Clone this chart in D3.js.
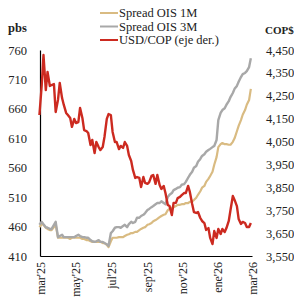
<!DOCTYPE html>
<html>
<head>
<meta charset="utf-8">
<script src="https://cdn.jsdelivr.net/npm/d3@7"></script>
<style>
  body { margin: 0; background: #fff; }
  text { font-family: "Liberation Serif", "DejaVu Serif", serif; fill: #222; }
</style>
</head>
<body>
<div id="chart"></div>
<script>
// observations, two per week, from end of feb 2025 to end of feb 2026
var start = new Date(2025, 1, 28);

var ois1m = [459, 464, 463, 458, 456, 454, 454, 459, 463, 441, 441, 441, 441, 441, 441, 439, 441, 441, 441, 441,
  441, 439, 439, 437, 437, 435, 434, 434, 434, 434, 434, 432, 432, 429, 425, 435, 441, 441, 441, 442,
  442, 442, 444, 446, 447, 449, 449, 451, 451, 454, 456, 458, 459, 463, 464, 466, 469, 471, 473, 476,
  478, 480, 481, 488, 490, 492, 493, 495, 497, 497, 498, 498, 500, 500, 502, 503, 505, 509, 514, 520,
  526, 529, 536, 541, 546, 553, 565, 578, 595, 600, 602, 600, 600, 599, 599, 604, 610, 622, 631, 641,
  650, 658, 667, 675, 694];

var ois3m = [463, 468, 464, 459, 458, 456, 456, 463, 468, 442, 444, 446, 442, 442, 442, 442, 442, 442, 444, 446,
  444, 442, 442, 441, 441, 437, 435, 434, 435, 437, 434, 434, 432, 430, 427, 449, 452, 458, 459, 459,
  458, 461, 463, 459, 464, 468, 466, 468, 475, 475, 478, 480, 483, 488, 490, 493, 495, 498, 500, 500,
  503, 500, 498, 510, 514, 517, 522, 524, 526, 527, 531, 532, 536, 543, 548, 553, 560, 563, 570, 575,
  580, 583, 587, 590, 592, 595, 597, 607, 641, 653, 658, 661, 667, 673, 680, 687, 694, 699, 706, 714,
  719, 721, 724, 731, 746];

var usdcop = [4166, 4297, 4428, 4275, 4354, 4293, 4297, 4301, 4179, 4232, 4306, 4240, 4210, 4175, 4166, 4153, 4114, 4149, 4131, 4135,
  4197, 4153, 4100, 4096, 4087, 4035, 4057, 4000, 4048, 4026, 4013, 4026, 4070, 4149, 4170, 4166, 4092, 4048, 4048, 4017,
  4031, 4022, 4048, 4031, 3991, 3965, 3926, 3891, 3895, 3891, 3851, 3895, 3869, 3865, 3873, 3900, 3904, 3865, 3904, 3860,
  3843, 3856, 3825, 3773, 3768, 3729, 3782, 3782, 3803, 3808, 3816, 3825, 3825, 3856, 3830, 3777, 3742, 3738, 3742, 3716,
  3703, 3694, 3664, 3672, 3629, 3602, 3659, 3629, 3668, 3646, 3668, 3655, 3672, 3703, 3751, 3812, 3795, 3768, 3712, 3690,
  3699, 3694, 3677, 3677, 3694];

var dates = usdcop.map(function(d, i) { return d3.timeDay.offset(start, Math.round(i * 3.5)); });

var leftTicks = [410, 460, 510, 560, 610, 660, 710, 760];
var rightTicks = [3550, 3650, 3750, 3850, 3950, 4050, 4150, 4250, 4350, 4450];
var monthTicks = [new Date(2025, 2, 1), new Date(2025, 4, 1), new Date(2025, 6, 1), new Date(2025, 8, 1),
  new Date(2025, 10, 1), new Date(2026, 0, 1), new Date(2026, 2, 1)];
var monthNames = ["ene", "feb", "mar", "abr", "may", "jun", "jul", "ago", "sep", "oct", "nov", "dic"];

var series = [
  { name: "Spread OIS 1M", values: ois1m, color: "#d9bb82", width: 2.2, axis: "left" },
  { name: "Spread OIS 3M", values: ois3m, color: "#a8a8a8", width: 2.4, axis: "left" },
  { name: "USD/COP (eje der.)", values: usdcop, color: "#cc2a20", width: 2.4, axis: "right" }
];

// margin and size
var margin = { top: 50, right: 42, bottom: 41, left: 40 },
    W = 294, H = 297,
    width = W - margin.left - margin.right,
    height = H - margin.top - margin.bottom;

var x = d3.scaleTime()
    .domain([new Date(2025, 2, 1), new Date(2026, 2, 1)])
    .range([0, width]);

var yL = d3.scaleLinear().domain([410, 760]).range([height, 0]);
var yR = d3.scaleLinear().domain([3550, 4450]).range([height, 0]);

var svg = d3.select("#chart").append("svg")
    .attr("width", W)
    .attr("height", H);

var g = svg.append("g")
    .attr("transform", "translate(" + margin.left + "," + margin.top + ")");

// left axis
var axL = g.append("g")
    .call(d3.axisLeft(yL).tickValues(leftTicks).tickSize(0).tickPadding(13));
axL.select(".domain").attr("stroke", "#000").attr("stroke-width", 1.2);
axL.selectAll("text").style("font-size", "12.5px").attr("font-family", null);

// right axis, no line
var axR = g.append("g")
    .attr("transform", "translate(" + width + ",0)")
    .call(d3.axisRight(yR).tickValues(rightTicks).tickSize(0).tickPadding(14).tickFormat(d3.format(",")));
axR.select(".domain").remove();
axR.selectAll("text").style("font-size", "12.5px").attr("font-family", null);

// bottom axis
var axB = g.append("g")
    .attr("transform", "translate(0," + height + ")")
    .call(d3.axisBottom(x).tickValues(monthTicks).tickSize(0).tickPadding(0)
      .tickFormat(function(d) { return monthNames[d.getMonth()] + "'" + String(d.getFullYear()).slice(2); }));
axB.select(".domain").attr("stroke", "#000").attr("stroke-width", 1.2);
axB.selectAll("text")
    .style("font-size", "12px")
    .attr("font-family", null)
    .attr("text-anchor", "end")
    .attr("transform", "rotate(-90)")
    .attr("x", -6)
    .attr("y", 0)
    .attr("dy", "0.35em");

// axis titles
svg.append("text").attr("x", 8).attr("y", 32)
    .style("font-size", "12.5px").style("font-weight", "bold").text("pbs");
svg.append("text").attr("x", 265).attr("y", 34)
    .style("font-size", "11px").style("font-weight", "bold").text("COP$");

// lines
series.forEach(function(s) {
  var yy = s.axis === "left" ? yL : yR;
  var line = d3.line()
      .x(function(d, i) { return x(dates[i]); })
      .y(function(d) { return yy(d); });
  g.append("path")
      .datum(s.values)
      .attr("fill", "none")
      .attr("stroke", s.color)
      .attr("stroke-width", s.width)
      .attr("stroke-linejoin", "round")
      .attr("d", line);
});

// legend
var leg = svg.append("g").attr("transform", "translate(100,13)");
series.forEach(function(s, i) {
  var row = leg.append("g").attr("transform", "translate(0," + (i * 13.5) + ")");
  row.append("line").attr("x1", 0).attr("x2", 18).attr("y1", 0).attr("y2", 0)
      .attr("stroke", s.color).attr("stroke-width", 2);
  row.append("text").attr("x", 19).attr("y", 0).attr("dy", "0.35em")
      .style("font-size", "12.5px").text(s.name);
});
</script>
</body>
</html>
